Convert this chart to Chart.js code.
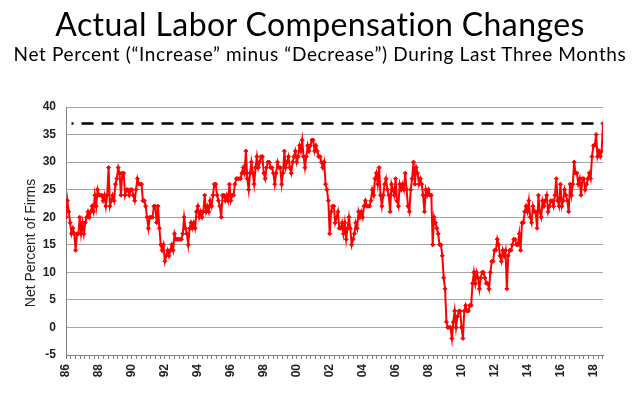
<!DOCTYPE html>
<html>
<head>
<meta charset="utf-8">
<script src="https://cdn.jsdelivr.net/npm/chart.js@4.4.1/dist/chart.umd.min.js"></script>
<style>
  html, body { margin: 0; padding: 0; background: #fff; }
  #wrap { position: relative; width: 640px; height: 394px; overflow: hidden; }
  #chart { position: absolute; left: 0; top: 0; }
  .title {
    position: absolute; left: 0; width: 640px; text-align: center;
    font-family: Lato, "Open Sans", sans-serif; color: #000; white-space: nowrap;
    font-variant-ligatures: none;
  }
  #main { top: 8px; font-size: 32px; line-height: 32px; letter-spacing: 0.4px; }
  #sub { top: 44px; font-size: 19px; line-height: 19px; letter-spacing: 0.65px; }
</style>
</head>
<body>
<div id="wrap">
  <canvas id="chart" width="640" height="394"></canvas>
  <div class="title" id="main">Actual Labor Compensation Changes</div>
  <div class="title" id="sub">Net Percent (“Increase” minus “Decrease”) During Last Three Months</div>
</div>
<script>
// Monthly net percent of firms, Jan 1986 onward
const netPct1986_1989 = [
  20, 23, 21, 19, 17, 18, 17, 14, 17, 17, 20, 17,
  19, 17, 19, 20, 21, 20, 21, 22, 21, 24, 22, 25,
  24, 24, 24, 23, 24, 22, 24, 29, 22, 23, 24, 23,
  26, 27, 29, 28, 24, 28, 28, 24, 25, 25, 24, 25
];
const netPct1990_1999 = [
  25, 24, 23, 25, 27, 26, 26, 26, 23, 23, 22, 20,
  18, 20, 20, 20, 22, 22, 19, 22, 18, 15, 14, 15,
  12, 13, 14, 13, 14, 15, 14, 17, 16, 16, 16, 16,
  16, 17, 20, 18, 17, 15, 18, 19, 18, 19, 18, 21,
  22, 20, 21, 20, 21, 24, 21, 22, 21, 23, 22, 24,
  26, 26, 24, 23, 22, 20, 24, 24, 23, 24, 23, 26,
  23, 24, 24, 26, 27, 27, 27, 27, 28, 29, 28, 32,
  27, 25, 28, 30, 28, 26, 29, 31, 29, 30, 31, 31,
  28, 27, 29, 30, 30, 29, 29, 28, 26, 28, 30, 29,
  29, 26, 28, 32, 29, 30, 31, 29, 28, 30, 31, 32
];
const netPct2000_2009 = [
  30, 31, 33, 32, 34, 31, 29, 31, 33, 32, 33, 34,
  34, 32, 33, 32, 31, 31, 30, 29, 30, 26, 25, 23,
  17, 21, 22, 22, 19, 20, 21, 18, 18, 19, 17, 19,
  16, 18, 20, 18, 15, 16, 17, 19, 18, 21, 20, 21,
  20, 22, 23, 22, 22, 22, 23, 25, 24, 27, 28, 26,
  29, 24, 22, 24, 26, 27, 25, 24, 21, 26, 25, 24,
  27, 23, 22, 26, 25, 26, 25, 28, 25, 22, 21, 25,
  27, 30, 26, 29, 28, 26, 27, 26, 24, 21, 25, 24,
  25, 24, 24, 15, 20, 19, 18, 17, 15, 15, 13, 9,
  7, 1, 0, 0, 0, -2, 1, 3, 0, 2, 3, 3
];
const netPct2010_2018 = [
  0, -2, 3, 4, 3, 3, 4, 4, 8, 10, 8, 10,
  9, 7, 9, 10, 10, 9, 8, 8, 7, 10, 12, 12,
  14, 14, 16, 15, 13, 12, 14, 13, 14, 7, 13, 14,
  14, 15, 16, 16, 15, 15, 17, 14, 19, 19, 21, 22,
  21, 23, 20, 19, 22, 21, 21, 18, 24, 21, 20, 23,
  22, 23, 24, 21, 22, 23, 23, 22, 24, 27, 23, 22,
  26, 22, 23, 25, 24, 23, 21, 26, 24, 26, 30, 28,
  28, 26, 27, 24, 27, 27, 25, 26, 27, 28, 27, 31,
  33, 33, 35, 31, 32, 31, 32, 37
];
const yearLabels = ['86', '88', '90', '92', '94', '96', '98', '00', '02',
  '04', '06', '08', '10', '12', '14', '16', '18'];
const referenceLevel = 37;
const refStartMonth = 4;

const netPct = netPct1986_1989.concat(netPct1990_1999, netPct2000_2009, netPct2010_2018);
const lastMonth = netPct.length - 1;
const points = netPct.map((v, i) => ({ x: i, y: v }));

const axisFont = { family: '"Liberation Sans", Arial, sans-serif', size: 12, weight: 'bold' };

// draws the rotated y axis title where the original sits
const yTitlePlugin = {
  id: 'yTitle',
  afterDraw(chart) {
    const ctx = chart.ctx;
    ctx.save();
    ctx.translate(31, 243);
    ctx.rotate(-Math.PI / 2);
    ctx.font = '14px "Liberation Sans", Arial, sans-serif';
    ctx.fillStyle = '#222';
    ctx.textAlign = 'center';
    ctx.textBaseline = 'middle';
    ctx.fillText('Net Percent of Firms', 0, 0);
    ctx.restore();
  }
};

new Chart(document.getElementById('chart'), {
  type: 'line',
  data: {
    datasets: [
      {
        data: points,
        borderColor: '#ff0000',
        backgroundColor: '#ff0000',
        borderWidth: 2,
        pointStyle: 'rectRot',
        pointRadius: 2,
        pointBorderWidth: 1,
        tension: 0
      },
      {
        data: [{ x: refStartMonth, y: referenceLevel }, { x: lastMonth, y: referenceLevel }],
        borderColor: '#000',
        borderWidth: 2.5,
        borderDash: [12, 8],
        borderDashOffset: 10,
        pointRadius: 0
      }
    ]
  },
  options: {
    responsive: false,
    animation: false,
    layout: { padding: { top: 107, right: 37, left: 0, bottom: 0 } },
    plugins: {
      legend: { display: false },
      tooltip: { enabled: false }
    },
    scales: {
      x: {
        type: 'linear',
        min: 0,
        max: lastMonth,
        afterFit(scale) { scale.height = 39; },
        afterBuildTicks(scale) {
          const t = [];
          for (let k = 0; k * 24 <= lastMonth; k++) {
            for (let j = 0; j < 7; j++) {
              const v = k * 24 + j * 24 / 7;
              if (v <= lastMonth) t.push({ value: v });
            }
          }
          scale.ticks = t;
        },
        grid: {
          drawOnChartArea: false,
          drawTicks: true,
          tickLength: 4,
          color: '#808080'
        },
        border: { color: '#808080' },
        ticks: {
          autoSkip: false,
          minRotation: 90,
          maxRotation: 90,
          padding: 5,
          color: '#222',
          font: axisFont,
          callback(value) {
            const k = value / 24;
            if (Math.abs(k - Math.round(k)) < 1e-6) return yearLabels[Math.round(k)] || '';
            return '';
          }
        }
      },
      y: {
        min: -5,
        max: 40,
        afterFit(scale) { scale.width = 66; },
        ticks: { stepSize: 5, padding: 10, color: '#222', font: axisFont },
        grid: { color: '#a6a6a6', drawTicks: false },
        border: { color: '#808080' }
      }
    }
  },
  plugins: [yTitlePlugin]
});
</script>
</body>
</html>
